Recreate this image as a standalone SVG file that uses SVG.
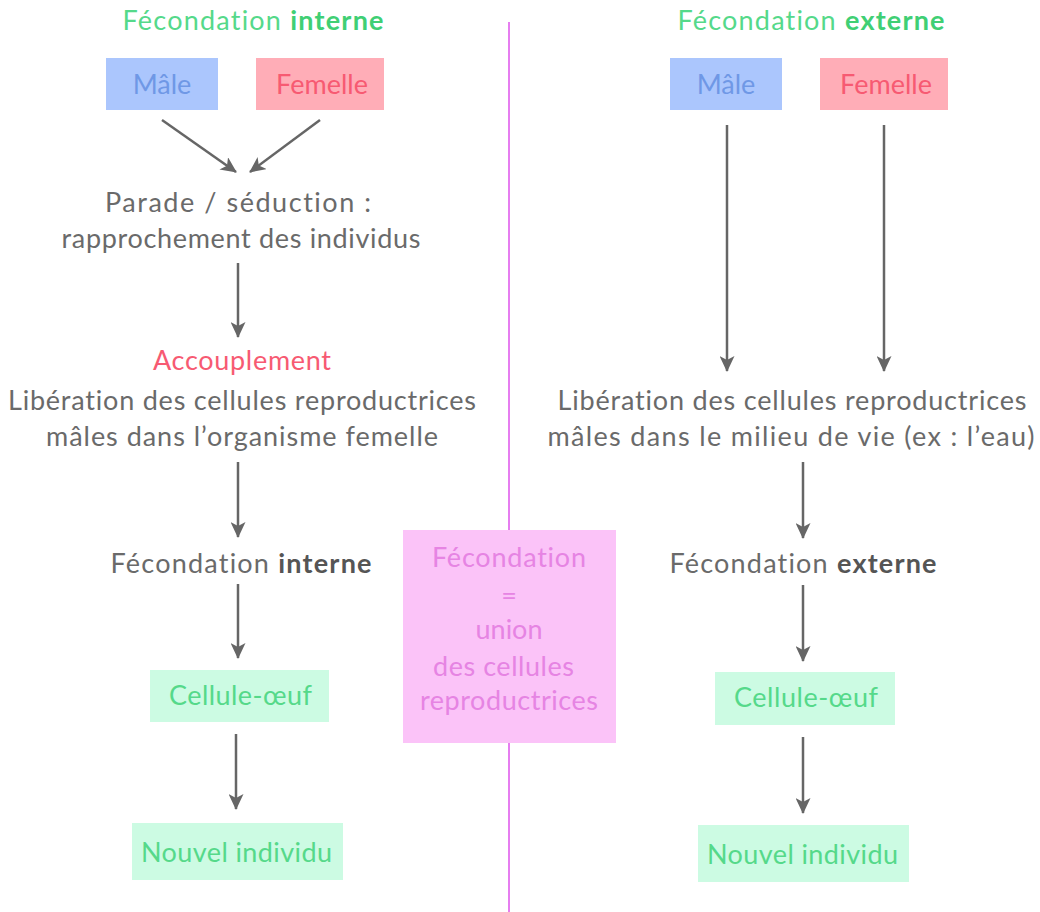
<svg xmlns="http://www.w3.org/2000/svg" width="1040" height="912" viewBox="0 0 1040 912">
<defs>
<style>
text{font-family:"Lato","Liberation Sans",sans-serif;font-size:27px;text-anchor:middle;font-variant-ligatures:none}
.g{fill:#6a6a6a}
.gb{fill:#555555;font-weight:bold}
.green{fill:#55d98a}
.greenb{fill:#40cf74;font-weight:bold}
.blue{fill:#6f98e6}
.red{fill:#f75a72}
.pinkt{fill:#e684e3}
.bm{fill:#abc6fd}
.fm{fill:#ffadb7}
.cm{fill:#ccfbe3}
.pk{fill:#fbc3f8}
.arr{stroke:#666666;stroke-width:2.5;fill:none;marker-end:url(#ah)}
</style>
<marker id="ah" markerUnits="userSpaceOnUse" markerWidth="16" markerHeight="15" viewBox="0 0 16 15" refX="15" refY="7.5" orient="auto">
<path d="M0,0 L16,7.5 L0,15 L4,7.5 z" fill="#666666"/>
</marker>
</defs>
<rect width="1040" height="912" fill="#ffffff"/>
<line x1="509" y1="22" x2="509" y2="912" stroke="#e67ef0" stroke-width="2"/>

<g id="title-left"><text x="253" y="30" textLength="261" class="green">Fécondation <tspan class="greenb">interne</tspan></text></g>
<g id="title-right"><text x="811" y="30" textLength="267" class="green">Fécondation <tspan class="greenb">externe</tspan></text></g>

<g id="male-left"><rect x="106" y="58" width="112" height="52" class="bm"/><text x="162" y="94" class="blue">Mâle</text></g>
<g id="femelle-left"><rect x="256" y="58" width="128" height="52" class="fm"/><text x="322" y="94" class="red">Femelle</text></g>
<g id="parade"><text x="238" y="212" textLength="266" class="g">Parade / séduction :</text><text x="241" y="248" textLength="359" class="g">rapprochement des individus</text></g>
<g id="accouplement"><text x="242" y="370" textLength="178" class="red">Accouplement</text>
<text x="242" y="410" textLength="468" class="g">Libération des cellules reproductrices</text>
<text x="242" y="446" textLength="392" class="g">mâles dans l’organisme femelle</text></g>
<g id="fec-interne"><text x="241" y="573" textLength="261" class="g">Fécondation <tspan class="gb">interne</tspan></text></g>
<g id="oeuf-left"><rect x="150" y="670" width="179" height="52" class="cm"/><text x="240.5" y="705" textLength="143" class="green">Cellule-œuf</text></g>
<g id="nouvel-left"><rect x="132" y="823" width="211" height="57" class="cm"/><text x="236.5" y="862" textLength="191" class="green">Nouvel individu</text></g>

<g id="male-right"><rect x="670" y="58" width="112" height="52" class="bm"/><text x="726" y="94" class="blue">Mâle</text></g>
<g id="femelle-right"><rect x="820" y="58" width="128" height="52" class="fm"/><text x="886" y="94" class="red">Femelle</text></g>
<g id="liberation-right"><text x="792" y="410" textLength="469" class="g">Libération des cellules reproductrices</text>
<text x="791" y="446" textLength="487" class="g">mâles dans le milieu de vie (ex : l’eau)</text></g>
<g id="fec-externe"><text x="803" y="573" textLength="267" class="g">Fécondation <tspan class="gb">externe</tspan></text></g>
<g id="oeuf-right"><rect x="715" y="672" width="180" height="53" class="cm"/><text x="806" y="707" textLength="144" class="green">Cellule-œuf</text></g>
<g id="nouvel-right"><rect x="698" y="825" width="211" height="57" class="cm"/><text x="802.5" y="864" textLength="191" class="green">Nouvel individu</text></g>

<g id="definition"><rect x="403" y="530" width="213" height="213" class="pk"/>
<text x="509" y="567" textLength="154" class="pinkt">Fécondation</text>
<text x="509" y="605" class="pinkt">=</text>
<text x="509" y="639" textLength="67" class="pinkt">union</text>
<text x="503.5" y="676" textLength="141" class="pinkt">des cellules</text>
<text x="509" y="710" textLength="178" class="pinkt">reproductrices</text></g>

<g id="connectors">
<line x1="162" y1="120" x2="236" y2="172" class="arr"/>
<line x1="320" y1="120" x2="250" y2="172" class="arr"/>
<line x1="238" y1="263" x2="238" y2="337" class="arr"/>
<line x1="238" y1="462" x2="238" y2="537" class="arr"/>
<line x1="238" y1="584" x2="238" y2="658" class="arr"/>
<line x1="236" y1="734" x2="236" y2="809" class="arr"/>
<line x1="727" y1="125" x2="727" y2="371" class="arr"/>
<line x1="884" y1="125" x2="884" y2="371" class="arr"/>
<line x1="803" y1="462" x2="803" y2="538" class="arr"/>
<line x1="803" y1="585" x2="803" y2="661" class="arr"/>
<line x1="803" y1="737" x2="803" y2="813" class="arr"/>
</g>
</svg>
